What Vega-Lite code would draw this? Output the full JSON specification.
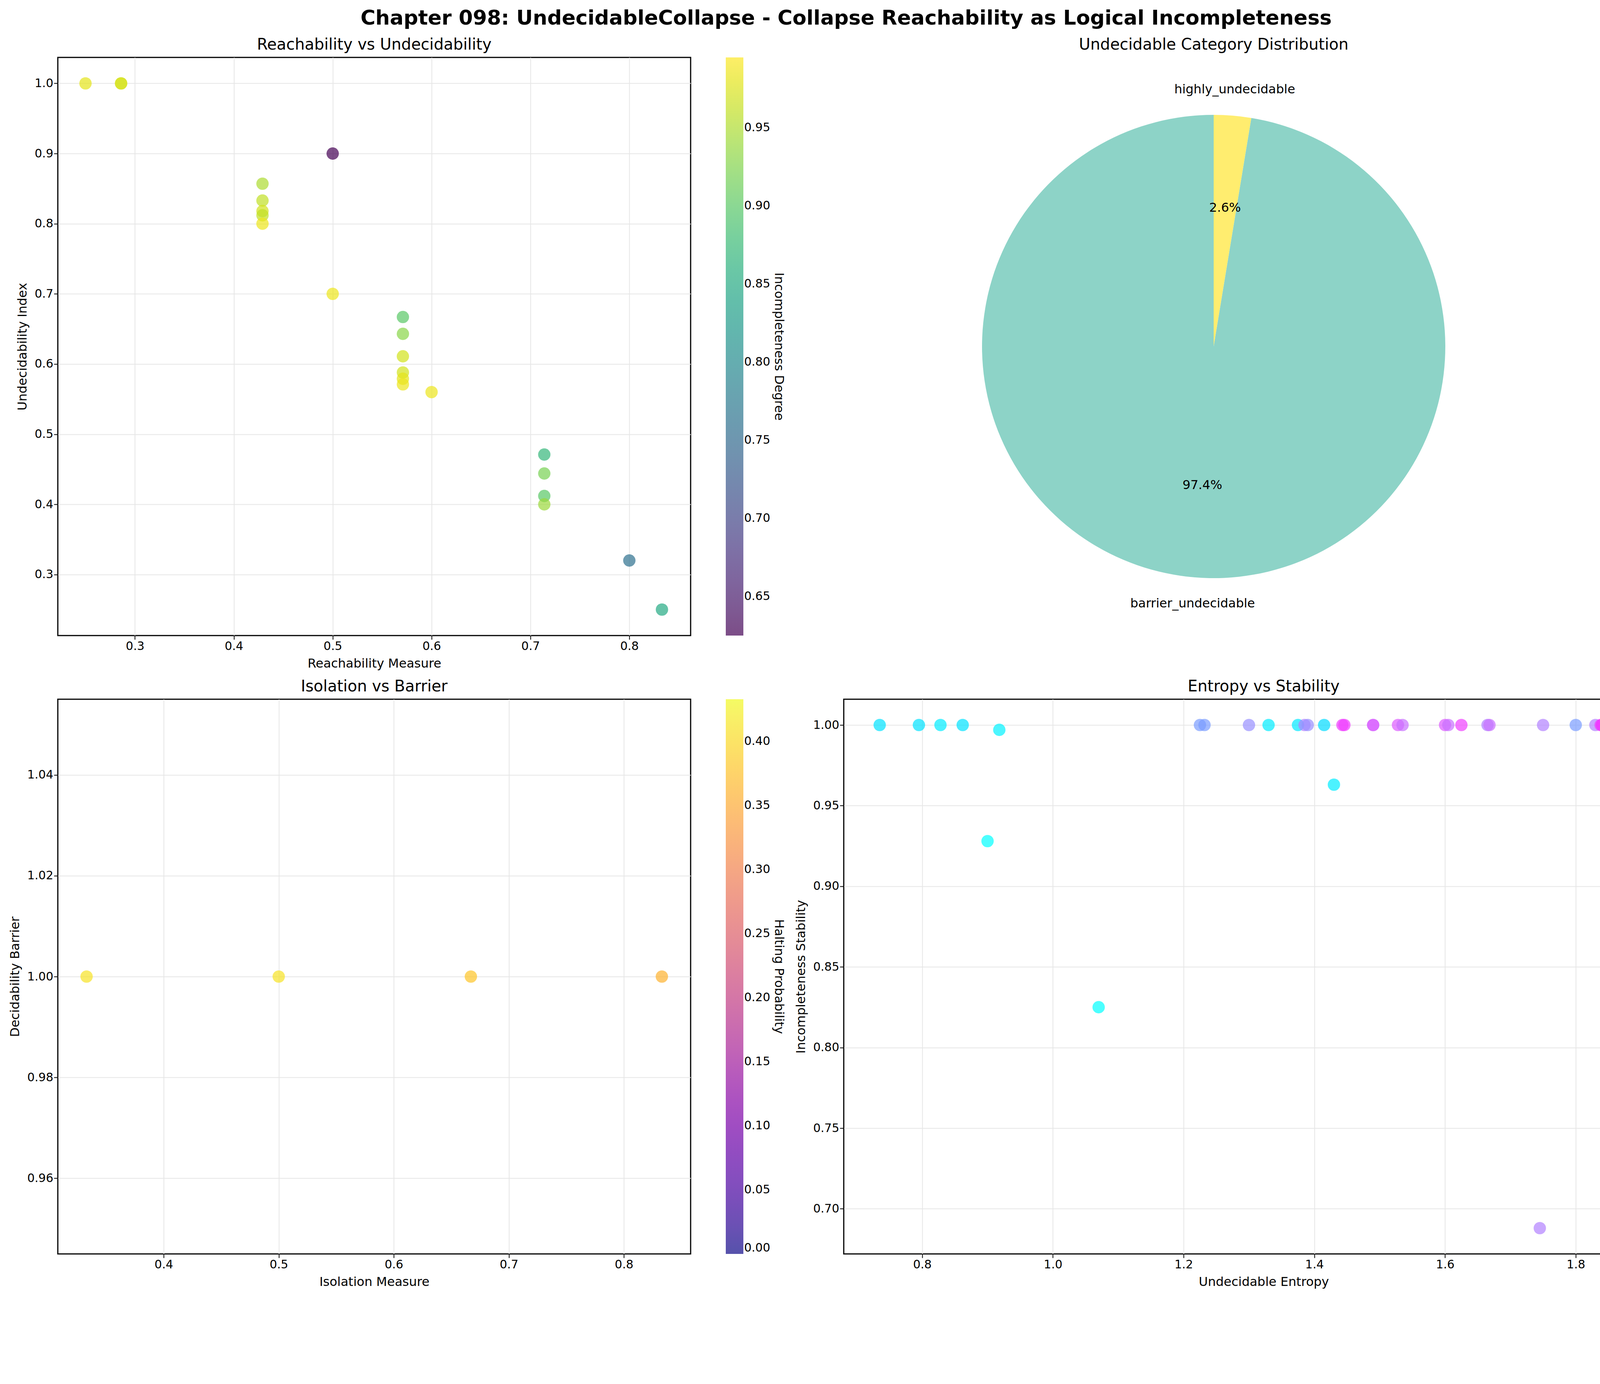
{
  "$schema": "https://vega.github.io/schema/vega-lite/v6.json",
  "background": "white",
  "padding": {"left": 20, "top": 20, "right": 20, "bottom": 20},
  "title": {"text": "Chapter 098: UndecidableCollapse - Collapse Reachability as Logical Incompleteness", "fontSize": 52, "fontWeight": "bold", "font": "DejaVu Sans", "anchor": "middle", "offset": 20},
  "resolve": {"scale": {"color": "independent"}, "legend": {"color": "independent"}},
  "config": {
    "font": "DejaVu Sans",
    "view": {"stroke": "black", "strokeWidth": 3},
    "axis": {"labelFontSize": 30, "titleFontSize": 32, "titleFontWeight": "normal", "domainColor": "black", "tickColor": "black", "labelColor": "black", "titleColor": "black", "gridColor": "#e6e6e6", "gridWidth": 2, "tickSize": 10, "tickWidth": 2, "labelFlush": false, "titlePadding": 14},
    "title": {"fontSize": 40, "fontWeight": "normal", "offset": 12},
    "legend": {"labelFontSize": 30, "titleFontSize": 32, "titleFontWeight": "normal", "titleLimit": 2000, "gradientThickness": 45, "gradientStrokeColor": "black", "titleOrient": "right", "titleAngle": 90, "titleAnchor": "middle", "offset": 90}
  },
  "vconcat": [
    {
      "resolve": {"scale": {"color": "independent"}, "legend": {"color": "independent"}},
      "hconcat": [
        {
          "title": "Reachability vs Undecidability",
          "width": 1620, "height": 1480,
          "data": {"values": [
            {"r": 0.25, "u": 1.0, "c": 0.98}, {"r": 0.286, "u": 1.0, "c": 0.98}, {"r": 0.286, "u": 1.0, "c": 0.97},
            {"r": 0.5, "u": 0.9, "c": 0.625}, {"r": 0.429, "u": 0.857, "c": 0.95}, {"r": 0.429, "u": 0.833, "c": 0.96},
            {"r": 0.429, "u": 0.818, "c": 0.97}, {"r": 0.429, "u": 0.812, "c": 0.96}, {"r": 0.429, "u": 0.8, "c": 0.985},
            {"r": 0.5, "u": 0.7, "c": 0.985}, {"r": 0.571, "u": 0.667, "c": 0.9}, {"r": 0.571, "u": 0.643, "c": 0.93},
            {"r": 0.571, "u": 0.611, "c": 0.97}, {"r": 0.571, "u": 0.588, "c": 0.97}, {"r": 0.571, "u": 0.579, "c": 0.98},
            {"r": 0.571, "u": 0.571, "c": 0.985}, {"r": 0.6, "u": 0.56, "c": 0.985}, {"r": 0.714, "u": 0.471, "c": 0.87},
            {"r": 0.714, "u": 0.444, "c": 0.92}, {"r": 0.714, "u": 0.412, "c": 0.9}, {"r": 0.714, "u": 0.4, "c": 0.94},
            {"r": 0.8, "u": 0.32, "c": 0.76}, {"r": 0.833, "u": 0.25, "c": 0.85}
          ]},
          "mark": {"type": "circle", "size": 1000, "opacity": 0.7},
          "encoding": {
            "x": {"field": "r", "type": "quantitative", "title": "Reachability Measure", "scale": {"domain": [0.222, 0.862], "nice": false, "zero": false}, "axis": {"values": [0.3, 0.4, 0.5, 0.6, 0.7, 0.8], "format": ".1f"}},
            "y": {"field": "u", "type": "quantitative", "title": "Undecidability Index", "scale": {"domain": [0.213, 1.037], "nice": false, "zero": false}, "axis": {"values": [0.3, 0.4, 0.5, 0.6, 0.7, 0.8, 0.9, 1.0], "format": ".1f"}},
            "color": {"field": "c", "type": "quantitative", "title": "Incompleteness Degree", "scale": {"scheme": "viridis", "domain": [0.625, 0.995]}, "legend": {"gradientLength": 1480, "values": [0.65, 0.7, 0.75, 0.8, 0.85, 0.9, 0.95], "format": ".2f"}}
          }
        },
        {
          "title": {"text": "Undecidable Category Distribution", "offset": 12},
          "width": 2150, "height": 1480,
          "data": {"values": [
            {"cat": "highly_undecidable", "v": 2.6, "pct": "2.6%"},
            {"cat": "barrier_undecidable", "v": 97.4, "pct": "97.4%"}
          ]},
          "encoding": {
            "theta": {"field": "v", "type": "quantitative", "stack": true},
            "color": {"field": "cat", "type": "nominal", "scale": {"domain": ["highly_undecidable", "barrier_undecidable"], "range": ["#ffed6f", "#8dd3c7"]}, "legend": null},
            "order": {"field": "v", "sort": "ascending"}
          },
          "layer": [
            {"mark": {"type": "arc", "outerRadius": 593}},
            {"mark": {"type": "text", "radius": 356, "fontSize": 32, "color": "black"}, "encoding": {"text": {"field": "pct"}, "color": {"value": "black"}}},
            {"mark": {"type": "text", "radius": 660, "fontSize": 32, "color": "black"}, "encoding": {"text": {"field": "cat"}, "color": {"value": "black"}}}
          ],
          "view": {"stroke": null}
        }
      ]
    },
    {
      "resolve": {"scale": {"color": "independent"}, "legend": {"color": "independent"}},
      "hconcat": [
        {
          "title": "Isolation vs Barrier",
          "width": 1620, "height": 1420,
          "data": {"values": [
            {"i": 0.333, "b": 1.0, "h": 0.41}, {"i": 0.5, "b": 1.0, "h": 0.41}, {"i": 0.667, "b": 1.0, "h": 0.38}, {"i": 0.833, "b": 1.0, "h": 0.36}
          ]},
          "mark": {"type": "circle", "size": 1000, "opacity": 0.7},
          "encoding": {
            "x": {"field": "i", "type": "quantitative", "title": "Isolation Measure", "scale": {"domain": [0.308, 0.858], "nice": false, "zero": false}, "axis": {"values": [0.4, 0.5, 0.6, 0.7, 0.8], "format": ".1f"}},
            "y": {"field": "b", "type": "quantitative", "title": "Decidability Barrier", "scale": {"domain": [0.945, 1.055], "nice": false, "zero": false}, "axis": {"values": [0.96, 0.98, 1.0, 1.02, 1.04], "format": ".2f"}},
            "color": {"field": "h", "type": "quantitative", "title": "Halting Probability", "scale": {"scheme": "plasma", "domain": [0, 0.433]}, "legend": {"gradientLength": 1420, "values": [0, 0.05, 0.1, 0.15, 0.2, 0.25, 0.3, 0.35, 0.4], "format": ".2f"}}
          }
        },
        {
          "title": "Entropy vs Stability",
          "width": 2150, "height": 1420,
          "data": {"values": [
            {"e": 0.735, "s": 1.0, "c": 0.3}, {"e": 0.795, "s": 1.0, "c": 0.3}, {"e": 0.828, "s": 1.0, "c": 0.2}, {"e": 0.862, "s": 1.0, "c": 0.3},
            {"e": 0.918, "s": 0.997, "c": 0.15}, {"e": 0.9, "s": 0.928, "c": 0.0}, {"e": 1.07, "s": 0.825, "c": 0.0}, {"e": 1.225, "s": 1.0, "c": 0.7},
            {"e": 1.232, "s": 1.0, "c": 0.7}, {"e": 1.3, "s": 1.0, "c": 0.75}, {"e": 1.33, "s": 1.0, "c": 0.2}, {"e": 1.375, "s": 1.0, "c": 0.25},
            {"e": 1.385, "s": 1.0, "c": 0.8}, {"e": 1.39, "s": 1.0, "c": 0.75}, {"e": 1.415, "s": 1.0, "c": 0.35}, {"e": 1.43, "s": 0.963, "c": 0.2},
            {"e": 1.443, "s": 1.0, "c": 0.95}, {"e": 1.446, "s": 1.0, "c": 0.95}, {"e": 1.49, "s": 1.0, "c": 0.85}, {"e": 1.49, "s": 1.0, "c": 0.9},
            {"e": 1.528, "s": 1.0, "c": 0.9}, {"e": 1.535, "s": 1.0, "c": 0.85}, {"e": 1.6, "s": 1.0, "c": 0.9}, {"e": 1.605, "s": 1.0, "c": 0.85},
            {"e": 1.625, "s": 1.0, "c": 0.95}, {"e": 1.665, "s": 1.0, "c": 0.8}, {"e": 1.668, "s": 1.0, "c": 0.85}, {"e": 1.75, "s": 1.0, "c": 0.8},
            {"e": 1.745, "s": 0.688, "c": 0.8}, {"e": 1.8, "s": 1.0, "c": 0.7}, {"e": 1.83, "s": 1.0, "c": 0.8}, {"e": 1.84, "s": 1.0, "c": 1.0},
            {"e": 1.838, "s": 1.0, "c": 0.95}, {"e": 1.91, "s": 1.0, "c": 0.95}, {"e": 1.91, "s": 1.0, "c": 1.0}
          ]},
          "mark": {"type": "circle", "size": 1000, "opacity": 0.7},
          "encoding": {
            "x": {"field": "e", "type": "quantitative", "title": "Undecidable Entropy", "scale": {"domain": [0.68, 1.965], "nice": false, "zero": false}, "axis": {"values": [0.8, 1.0, 1.2, 1.4, 1.6, 1.8], "format": ".1f"}},
            "y": {"field": "s", "type": "quantitative", "title": "Incompleteness Stability", "scale": {"domain": [0.672, 1.016], "nice": false, "zero": false}, "axis": {"values": [0.7, 0.75, 0.8, 0.85, 0.9, 0.95, 1.0], "format": ".2f"}},
            "color": {"field": "c", "type": "quantitative", "scale": {"range": ["#00ffff", "#ff00ff"], "domain": [0, 1]}, "legend": null}
          }
        }
      ]
    }
  ]
}
